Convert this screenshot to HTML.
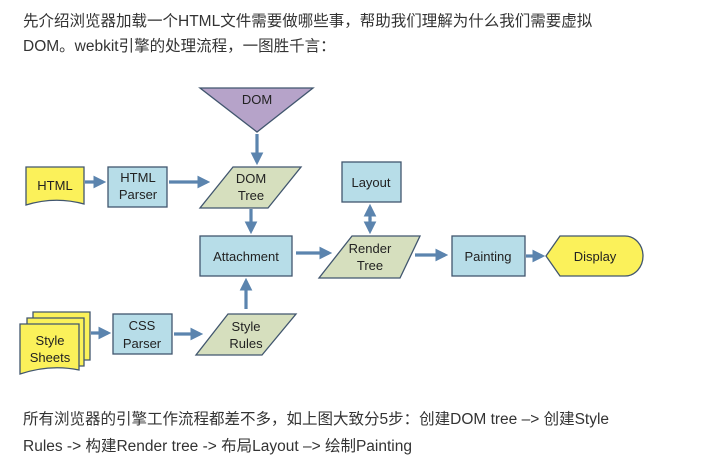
<!DOCTYPE html>
<html><head><meta charset="utf-8"><style>
body{margin:0;width:707px;height:465px;background:#fff;position:relative;overflow:hidden;font-family:"Liberation Sans","Noto Sans CJK SC",sans-serif;color:#333;}
.t{position:absolute;left:23px;font-size:15.5px;white-space:nowrap;line-height:20px;}
svg{position:absolute;left:0;top:0}
svg text{font-family:"Liberation Sans","Noto Sans CJK SC",sans-serif;font-size:13px;fill:#222;text-anchor:middle}
</style></head><body>
<div class="t" style="top:12px">先介绍浏览器加载一个HTML文件需要做哪些事，帮助我们理解为什么我们需要虚拟</div>
<div class="t" style="top:37px">DOM。webkit引擎的处理流程，一图胜千言：</div>
<div class="t" style="top:410px">所有浏览器的引擎工作流程都差不多，如上图大致分5步：创建DOM tree –> 创建Style</div>
<div class="t" style="top:437px">Rules -> 构建Render tree -> 布局Layout –> 绘制Painting</div>
<svg width="707" height="465">
<defs><marker id="a" markerWidth="4" markerHeight="4" refX="3" refY="2" orient="auto" markerUnits="strokeWidth"><path d="M0,0 L4,2 L0,4 z" fill="#5b84ae"/></marker></defs>
<g stroke="#5b84ae" stroke-width="3.2" fill="none" marker-end="url(#a)">
<line x1="257" y1="134" x2="257" y2="162"/>
<line x1="85" y1="182" x2="103" y2="182"/>
<line x1="169" y1="182" x2="207" y2="182"/>
<line x1="251" y1="209" x2="251" y2="231"/>
<line x1="246" y1="309" x2="246" y2="281"/>
<line x1="91" y1="333" x2="108" y2="333"/>
<line x1="174" y1="334" x2="200" y2="334"/>
<line x1="296" y1="253" x2="329" y2="253"/>
<line x1="415" y1="255" x2="445" y2="255"/>
<line x1="526" y1="256" x2="542" y2="256"/>
<line x1="370" y1="220" x2="370" y2="207"/>
<line x1="370" y1="218" x2="370" y2="231"/>
</g>
<g stroke="#41566e" stroke-width="1.3">
<polygon points="200,88 313,88 257,132" fill="#b6a3c9"/>
<path d="M26,167 H84 V204 Q55,196 26,205 Z" fill="#fbf15a"/>
<rect x="108" y="167" width="59" height="40" fill="#b7dde8"/>
<polygon points="233,167 301,167 268,208 200,208" fill="#d6dfbe"/>
<rect x="200" y="236" width="92" height="40" fill="#b7dde8"/>
<path d="M33,312 H90 V360 H33 Z" fill="#fbf15a"/>
<path d="M27,318 H84 V366 H27 Z" fill="#fbf15a"/>
<path d="M20,324 H79 V370 Q50,364 20,374 Z" fill="#fbf15a"/>
<rect x="113" y="314" width="59" height="40" fill="#b7dde8"/>
<polygon points="228,314 296,314 262,355 196,355" fill="#d6dfbe"/>
<rect x="342" y="162" width="59" height="40" fill="#b7dde8"/>
<polygon points="352,236 420,236 400,278 319,278" fill="#d6dfbe"/>
<rect x="452" y="236" width="73" height="40" fill="#b7dde8"/>
<path d="M560,236 H625 A18,20 0 0 1 625,276 H560 L546,256 Z" fill="#fbf15a"/>
</g>
<text x="257" y="104">DOM</text>
<text x="55" y="190">HTML</text>
<text x="138" y="182">HTML</text><text x="138" y="199">Parser</text>
<text x="251" y="183">DOM</text><text x="251" y="200">Tree</text>
<text x="246" y="261">Attachment</text>
<text x="50" y="345">Style</text><text x="50" y="362">Sheets</text>
<text x="142" y="330">CSS</text><text x="142" y="348">Parser</text>
<text x="246" y="331">Style</text><text x="246" y="348">Rules</text>
<text x="371" y="187">Layout</text>
<text x="370" y="253">Render</text><text x="370" y="270">Tree</text>
<text x="488" y="261">Painting</text>
<text x="595" y="261">Display</text>
</svg>
</body></html>
